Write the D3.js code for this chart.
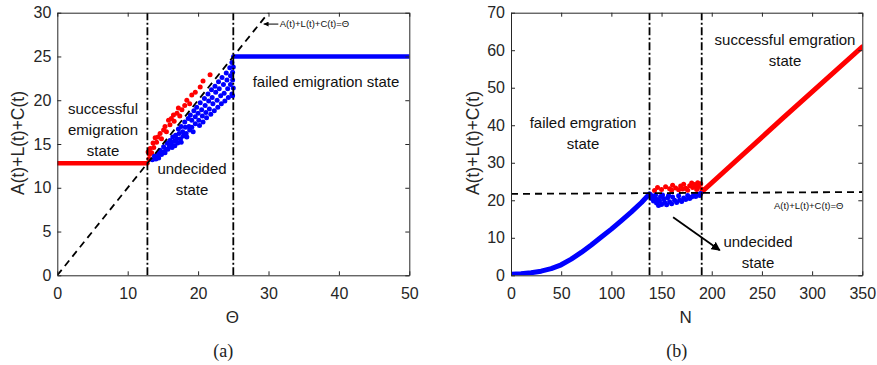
<!DOCTYPE html>
<html>
<head>
<meta charset="utf-8">
<script src="https://cdn.jsdelivr.net/npm/d3@7"></script>
<style>
  body { margin: 0; background: #fff; }
  text { font-family: "Liberation Sans", Arial, sans-serif; }
</style>
</head>
<body>
<svg id="fig" width="877" height="365"></svg>
<script>
// ---------- panel (a): threshold sweep ----------
const thetaTicks = [0, 10, 20, 30, 40, 50];
const sumTicksA = [0, 5, 10, 15, 20, 25, 30];
const thetaLow = 12.8;   // lower boundary of undecided region
const thetaHigh = 25;    // upper boundary of undecided region
const successLineA = [[0, 12.8], [12.8, 12.8]];
const failLineA = [[25, 25], [50, 25]];
const identityLine = [[0, 0], [30, 30]];

const redDotsA = [
  [12.9, 14.1], [13.0, 13.3], [13.1, 13.8], [13.2, 14.5], [13.4, 14.0], [13.6, 15.1],
  [13.7, 14.6], [13.9, 15.7], [14.1, 15.2], [14.3, 15.8], [14.6, 16.2], [14.8, 15.6],
  [15.1, 16.6], [15.3, 17.0], [15.5, 16.4], [15.8, 17.7], [16.0, 17.2], [16.2, 17.9],
  [16.5, 18.3], [16.6, 17.6], [17.0, 18.5], [17.2, 19.1], [17.4, 18.2], [17.7, 18.9],
  [18.1, 19.4], [18.4, 20.0], [18.8, 19.6], [19.1, 20.6], [19.6, 20.9], [20.3, 21.5],
  [20.7, 22.2], [21.7, 22.9]
];
const blueDotsA = [
  [13.5, 13.2], [13.8, 13.6], [14.0, 13.3], [14.3, 13.9], [14.4, 13.4], [14.6, 14.3],
  [14.8, 13.8], [14.9, 14.1], [15.1, 14.7], [15.3, 14.0], [15.4, 14.4], [15.6, 15.1],
  [15.7, 14.4], [15.9, 14.8], [16.0, 15.4], [16.2, 15.0], [16.3, 14.6], [16.4, 15.8],
  [16.6, 15.3], [16.7, 14.8], [16.8, 16.0], [17.0, 15.6], [17.1, 15.1], [17.2, 16.7],
  [17.3, 16.2], [17.5, 15.6], [17.6, 15.2], [17.6, 17.0], [17.8, 16.4], [17.9, 15.9],
  [18.1, 17.5], [18.2, 16.9], [18.3, 16.2], [18.4, 15.8], [18.6, 17.9], [18.7, 17.0],
  [18.8, 16.6], [18.9, 18.3], [19.1, 17.7], [19.1, 16.9], [19.3, 16.4], [19.4, 18.8],
  [19.6, 18.1], [19.6, 17.3], [19.8, 19.2], [20.0, 18.5], [20.1, 17.7], [20.2, 17.1],
  [20.3, 19.7], [20.5, 18.9], [20.6, 18.2], [20.7, 17.5], [20.9, 20.2], [21.0, 19.4],
  [21.1, 18.6], [21.2, 18.0], [21.4, 20.7], [21.5, 19.9], [21.6, 19.0], [21.8, 18.4],
  [21.9, 21.2], [22.0, 20.3], [22.1, 19.6], [22.3, 18.8], [22.4, 21.6], [22.5, 20.9],
  [22.7, 20.0], [22.8, 19.2], [22.9, 22.1], [23.0, 21.3], [23.2, 20.5], [23.3, 19.6],
  [23.4, 22.6], [23.6, 21.8], [23.7, 20.8], [23.8, 19.9], [24.0, 23.1], [24.1, 22.3],
  [24.2, 21.3], [24.3, 20.3], [24.5, 23.7], [24.6, 22.8], [24.6, 21.8], [24.8, 20.7],
  [24.8, 24.3], [24.9, 23.2], [24.9, 22.3], [25.0, 21.4], [24.9, 20.5], [25.0, 23.8]
];

// ---------- panel (b): colony size sweep ----------
const nTicks = [0, 50, 100, 150, 200, 250, 300, 350];
const sumTicksB = [0, 10, 20, 30, 40, 50, 60, 70];
const nLow = 138;
const nHigh = 190;
const thresholdLineB = [[0, 21.7], [350, 22.2]];
const failCurveB = [
  [0, 0.3], [10, 0.4], [20, 0.7], [30, 1.1], [40, 1.8], [50, 2.8], [60, 4.3],
  [70, 6.1], [80, 8.1], [90, 10.2], [100, 12.3], [110, 14.6], [120, 16.9],
  [130, 19.4], [138, 21.7]
];
const successLineB = [[190, 22.2], [270, 41.7], [350, 60.9]];

const redDotsB = [
  [143, 22.6], [146, 23.4], [150, 22.9], [154, 23.6], [158, 23.1], [160, 22.7],
  [161, 24.0], [164, 23.3], [167, 22.8], [169, 23.8], [171, 23.0], [172, 24.3],
  [174, 23.2], [176, 22.7], [178, 23.9], [180, 24.6], [181, 23.4], [183, 24.2],
  [184, 23.8], [185, 22.9], [186, 24.7], [187, 23.7], [189, 24.4], [190, 23.0],
  [191, 22.6]
];
const blueDotsB = [
  [139, 21.5], [140, 20.5], [141, 21.0], [142, 19.8], [143, 20.6], [144, 21.4],
  [145, 19.3], [146, 20.2], [147, 18.6], [148, 19.8], [149, 21.0], [150, 18.9],
  [151, 21.4], [152, 20.4], [153, 19.5], [155, 18.8], [156, 20.7], [157, 21.3],
  [158, 19.6], [160, 19.1], [161, 20.9], [163, 20.0], [165, 19.4], [167, 21.2],
  [168, 20.1], [170, 19.7], [172, 20.6], [174, 20.2], [176, 21.3], [178, 20.5],
  [180, 20.9], [182, 21.5], [184, 21.0], [186, 21.6], [188, 21.3], [189, 21.8]
];

const RED = "#ff0000", BLUE = "#0000ff", AXIS = "#262626";
const svg = d3.select("#fig");

const defs = svg.append("defs");
defs.append("marker").attr("id", "headSmall")
  .attr("viewBox", "0 0 10 10").attr("refX", 10).attr("refY", 5)
  .attr("markerWidth", 5).attr("markerHeight", 5).attr("orient", "auto")
  .append("path").attr("d", "M0,0 L10,5 L0,10 z").attr("fill", "#000");
defs.append("marker").attr("id", "headBig")
  .attr("viewBox", "0 0 10 10").attr("refX", 9).attr("refY", 5)
  .attr("markerWidth", 5).attr("markerHeight", 5).attr("orient", "auto")
  .append("path").attr("d", "M0,0 L10,5 L0,10 z").attr("fill", "#000");

function panel(cfg) {
  const x = d3.scaleLinear().domain(cfg.xDomain).range(cfg.xRange);
  const y = d3.scaleLinear().domain(cfg.yDomain).range([275.3, 12.7]);
  const g = svg.append("g");
  const clipId = "clip-" + cfg.id;
  defs.append("clipPath").attr("id", clipId).append("rect")
    .attr("x", cfg.xRange[0]).attr("y", 12.7)
    .attr("width", cfg.xRange[1] - cfg.xRange[0]).attr("height", 275.3 - 12.7);

  const plot = g.append("g").attr("clip-path", `url(#${clipId})`);
  const line = d3.line().x(d => x(d[0])).y(d => y(d[1]));

  // thick state lines
  cfg.thick.forEach(t => {
    plot.append("path").datum(t.data).attr("d", line)
      .attr("fill", "none").attr("stroke", t.color).attr("stroke-width", cfg.thickWidth)
      .attr("stroke-linecap", "round").attr("stroke-linejoin", "round");
  });

  // scatter of undecided outcomes
  cfg.dots.forEach(s => {
    plot.append("g").selectAll("circle").data(s.data).join("circle")
      .attr("cx", d => x(d[0])).attr("cy", d => y(d[1])).attr("r", 2.5)
      .attr("fill", s.color);
  });

  // reference dashed line
  plot.append("path").datum(cfg.refLine).attr("d", line)
    .attr("fill", "none").attr("stroke", "#000").attr("stroke-width", 1.8)
    .attr("stroke-dasharray", "7,5");

  // region boundaries (dash-dot)
  cfg.bounds.forEach(b => {
    plot.append("line").attr("x1", x(b)).attr("x2", x(b))
      .attr("y1", y(cfg.yDomain[0])).attr("y2", y(cfg.yDomain[1]))
      .attr("stroke", "#000").attr("stroke-width", 1.8)
      .attr("stroke-dasharray", "8,2.5,2,2.5");
  });

  // axes with inward ticks on all four sides
  const styleAxis = sel => {
    sel.selectAll("path.domain").attr("stroke", AXIS).attr("stroke-width", 1);
    sel.selectAll(".tick line").attr("stroke", AXIS);
    sel.selectAll(".tick text").attr("fill", AXIS)
      .style("font-family", '"Liberation Sans", Arial, sans-serif').style("font-size", "16px");
  };
  g.append("g").attr("transform", "translate(0,275.3)")
    .call(d3.axisBottom(x).tickValues(cfg.xTicks).tickSize(-4).tickSizeOuter(0).tickPadding(12))
    .call(styleAxis);
  g.append("g").attr("transform", "translate(0,12.7)")
    .call(d3.axisTop(x).tickValues(cfg.xTicks).tickSize(-4).tickSizeOuter(0).tickFormat(""))
    .call(styleAxis);
  g.append("g").attr("transform", `translate(${cfg.xRange[0]},0)`)
    .call(d3.axisLeft(y).tickValues(cfg.yTicks).tickSize(-4).tickSizeOuter(0).tickPadding(6))
    .call(styleAxis);
  g.append("g").attr("transform", `translate(${cfg.xRange[1]},0)`)
    .call(d3.axisRight(y).tickValues(cfg.yTicks).tickSize(-4).tickSizeOuter(0).tickFormat(""))
    .call(styleAxis);

  // y-axis title
  g.append("text")
    .attr("transform", `translate(${cfg.yTitleX},143) rotate(-90)`)
    .attr("text-anchor", "middle").attr("dy", "0.35em")
    .attr("font-size", 17.5).attr("fill", AXIS).text("A(t)+L(t)+C(t)");
  // x-axis title
  g.append("text").attr("x", (cfg.xRange[0] + cfg.xRange[1]) / 2 - 1).attr("y", 323)
    .attr("text-anchor", "middle").attr("font-size", 17).attr("fill", AXIS).text(cfg.xTitle);
  // panel caption
  g.append("text").attr("x", (cfg.xRange[0] + cfg.xRange[1]) / 2 - 10).attr("y", 357)
    .attr("text-anchor", "middle").attr("font-size", 18).attr("fill", "#222")
    .style("font-family", '"Liberation Serif", "DejaVu Serif", serif').text(cfg.caption);

  // region labels
  cfg.labels.forEach(l => {
    const t = g.append("text").attr("x", l.x).attr("y", l.y)
      .attr("text-anchor", "middle").attr("font-size", 15).attr("fill", "#111");
    l.lines.forEach((s, i) => t.append("tspan").attr("x", l.x).attr("dy", i ? 21 : 0).text(s));
  });

  return { x, y, g };
}

// ----- panel (a) -----
const A = panel({
  id: "a",
  xDomain: [0, 50], xRange: [57.3, 409.3], yDomain: [0, 30],
  xTicks: thetaTicks, yTicks: sumTicksA, thickWidth: 4.5,
  thick: [{ data: successLineA, color: RED }, { data: failLineA, color: BLUE }],
  dots: [{ data: redDotsA, color: RED }, { data: blueDotsA, color: BLUE }],
  refLine: identityLine,
  bounds: [thetaLow, thetaHigh],
  yTitleX: 18, xTitle: "Θ", caption: "(a)",
  labels: [
    { x: 103, y: 114, lines: ["successful", "emigration", "state"] },
    { x: 192, y: 174, lines: ["undecided", "state"] },
    { x: 326, y: 87, lines: ["failed emigration state"] }
  ]
});
A.g.append("line")
  .attr("x1", A.x(31.4)).attr("y1", A.y(28.7)).attr("x2", A.x(29.3)).attr("y2", A.y(28.7))
  .attr("stroke", "#000").attr("stroke-width", 1).attr("marker-end", "url(#headSmall)");
A.g.append("text").attr("x", A.x(31.6)).attr("y", A.y(28.7)).attr("dy", "0.35em")
  .attr("font-size", 9.5).attr("fill", "#111").text("A(t)+L(t)+C(t)=Θ");

// ----- panel (b) -----
const B = panel({
  id: "b",
  xDomain: [0, 350], xRange: [511, 862.3], yDomain: [0, 70],
  xTicks: nTicks, yTicks: sumTicksB, thickWidth: 5,
  thick: [{ data: failCurveB, color: BLUE }, { data: successLineB, color: RED }],
  dots: [{ data: redDotsB, color: RED }, { data: blueDotsB, color: BLUE }],
  refLine: thresholdLineB,
  bounds: [nLow, nHigh],
  yTitleX: 473, xTitle: "N", caption: "(b)",
  labels: [
    { x: 583, y: 128, lines: ["failed emgration", "state"] },
    { x: 785, y: 45, lines: ["successful emgration", "state"] },
    { x: 758, y: 247, lines: ["undecided", "state"] }
  ]
});
B.g.append("line")
  .attr("x1", B.x(161.5)).attr("y1", B.y(15.5)).attr("x2", B.x(208)).attr("y2", B.y(6.7))
  .attr("stroke", "#000").attr("stroke-width", 1.8).attr("marker-end", "url(#headBig)");
B.g.append("text").attr("x", B.x(262)).attr("y", B.y(18.5)).attr("dy", "0.35em")
  .attr("font-size", 9.5).attr("fill", "#111").text("A(t)+L(t)+C(t)=Θ");
</script>
</body>
</html>
